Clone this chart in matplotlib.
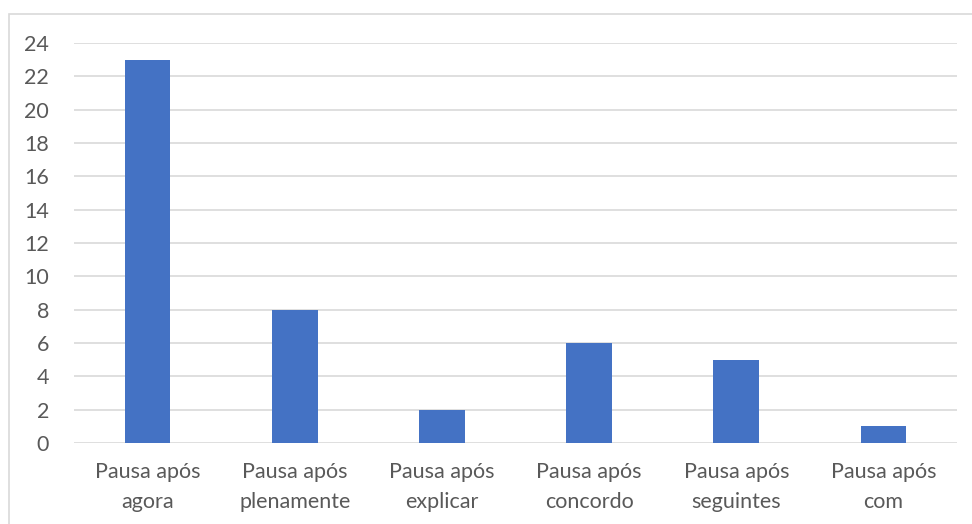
import matplotlib.pyplot as plt
from matplotlib.patches import Rectangle

categorias = ['Pausa após\nagora', 'Pausa após\nplenamente', 'Pausa após\nexplicar',
              'Pausa após\nconcordo', 'Pausa após\nseguintes', 'Pausa após\ncom']
valores = [23, 8, 2, 6, 5, 1]
yticks = list(range(0, 25, 2))

plt.rcParams['font.family'] = ['Lato', 'DejaVu Sans']

W, H = 972, 524
fig = plt.figure(figsize=(W / 100, H / 100), dpi=100)
ax = fig.add_axes([74 / W, 1 - 443 / H, (957 - 74) / W, (443 - 43) / H])

# moldura da área do gráfico
fig.patches.append(Rectangle((9 / W, -0.1), 1.2, 1.1 - 14 / H, transform=fig.transFigure,
                             fill=False, edgecolor='#d9d9d9', linewidth=1.2))

x = range(len(categorias))
ax.bar(x, valores, width=0.31, color='#4472c4', zorder=3)

ax.set_xlim(-0.5, len(categorias) - 0.5)
ax.set_ylim(0, 24)
ax.set_yticks(yticks)
ax.set_xticks(list(x))
ax.set_xticklabels(categorias, linespacing=1.6)
ax.yaxis.grid(True, color='#d9d9d9', linewidth=1.2, zorder=0)
for s in ax.spines.values():
    s.set_visible(False)
ax.tick_params(axis='both', length=0, labelsize=15.5, colors='#595959')
ax.tick_params(axis='y', pad=18)
ax.tick_params(axis='x', pad=14)

fig.savefig('out.png', dpi=100)
